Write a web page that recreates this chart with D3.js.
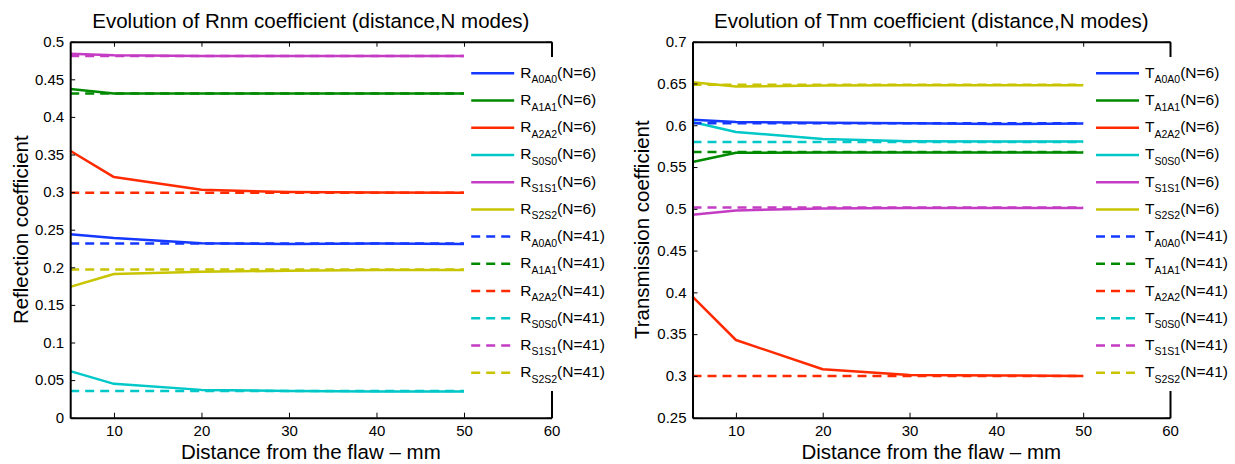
<!DOCTYPE html>
<html>
<head>
<meta charset="utf-8">
<script src="https://cdn.jsdelivr.net/npm/d3@7"></script>
<style>
  html, body { margin: 0; padding: 0; background: #fff; }
  svg { display: block; font-family: "Liberation Sans", Arial, Helvetica, sans-serif; }
</style>
</head>
<body>
<svg id="chart" width="1235" height="464"></svg>
<script>
// ---------- data ----------
const distances = [5, 10, 20, 30, 40, 50];
const modes = ["A0A0", "A1A1", "A2A2", "S0S0", "S1S1", "S2S2"];
const modeColors = ["#1438ff", "#008a00", "#ff2a00", "#00c8c8", "#c43cc4", "#c8c400"];

// Reflection coefficients, N = 6 modes
const rA0A0_N6 = [0.244, 0.239, 0.232, 0.231, 0.2315, 0.231];
const rA1A1_N6 = [0.437, 0.431, 0.431, 0.431, 0.431, 0.431];
const rA2A2_N6 = [0.355, 0.320, 0.303, 0.300, 0.2995, 0.299];
const rS0S0_N6 = [0.062, 0.045, 0.037, 0.0355, 0.035, 0.035];
const rS1S1_N6 = [0.484, 0.482, 0.481, 0.481, 0.481, 0.481];
const rS2S2_N6 = [0.174, 0.191, 0.194, 0.1955, 0.1965, 0.1965];
// Reflection coefficients, N = 41 modes
const rA0A0_N41 = [0.2315, 0.2315, 0.2315, 0.2315, 0.2315, 0.2315];
const rA1A1_N41 = [0.431, 0.431, 0.431, 0.431, 0.431, 0.431];
const rA2A2_N41 = [0.299, 0.299, 0.299, 0.299, 0.299, 0.299];
const rS0S0_N41 = [0.0355, 0.0355, 0.0355, 0.0355, 0.0355, 0.0355];
const rS1S1_N41 = [0.481, 0.481, 0.481, 0.481, 0.481, 0.481];
const rS2S2_N41 = [0.197, 0.197, 0.197, 0.197, 0.197, 0.197];

// Transmission coefficients, N = 6 modes
const tA0A0_N6 = [0.6065, 0.604, 0.603, 0.6025, 0.6015, 0.602];
const tA1A1_N6 = [0.556, 0.567, 0.5675, 0.5675, 0.5675, 0.5675];
const tA2A2_N6 = [0.395, 0.343, 0.308, 0.301, 0.3005, 0.300];
const tS0S0_N6 = [0.604, 0.592, 0.5835, 0.581, 0.5805, 0.5805];
const tS1S1_N6 = [0.493, 0.498, 0.5005, 0.501, 0.501, 0.501];
const tS2S2_N6 = [0.6515, 0.6465, 0.6475, 0.648, 0.648, 0.648];
// Transmission coefficients, N = 41 modes
const tA0A0_N41 = [0.6025, 0.6025, 0.6025, 0.6025, 0.6025, 0.6025];
const tA1A1_N41 = [0.568, 0.568, 0.568, 0.568, 0.568, 0.568];
const tA2A2_N41 = [0.300, 0.300, 0.300, 0.300, 0.300, 0.300];
const tS0S0_N41 = [0.580, 0.580, 0.580, 0.580, 0.580, 0.580];
const tS1S1_N41 = [0.5015, 0.5015, 0.5015, 0.5015, 0.5015, 0.5015];
const tS2S2_N41 = [0.6485, 0.6485, 0.6485, 0.6485, 0.6485, 0.6485];

const xTicks = [10, 20, 30, 40, 50, 60];
const rTicks = [0, 0.05, 0.1, 0.15, 0.2, 0.25, 0.3, 0.35, 0.4, 0.45, 0.5];
const tTicks = [0.25, 0.3, 0.35, 0.4, 0.45, 0.5, 0.55, 0.6, 0.65, 0.7];
const rTickLabels = ["0", "0.05", "0.1", "0.15", "0.2", "0.25", "0.3", "0.35", "0.4", "0.45", "0.5"];
const tTickLabels = ["0.25", "0.3", "0.35", "0.4", "0.45", "0.5", "0.55", "0.6", "0.65", "0.7"];

const panels = [
  {
    letter: "R",
    title: "Evolution of Rnm coefficient (distance,N modes)",
    ylabel: "Reflection coefficient",
    yDomain: [0, 0.5], yTicks: rTicks, yTickLabels: rTickLabels,
    n6: [rA0A0_N6, rA1A1_N6, rA2A2_N6, rS0S0_N6, rS1S1_N6, rS2S2_N6],
    n41: [rA0A0_N41, rA1A1_N41, rA2A2_N41, rS0S0_N41, rS1S1_N41, rS2S2_N41],
    left: 70.2, right: 551.5, ylabX: 28, legendX: 465.2
  },
  {
    letter: "T",
    title: "Evolution of Tnm coefficient (distance,N modes)",
    ylabel: "Transmission coefficient",
    yDomain: [0.25, 0.7], yTicks: tTicks, yTickLabels: tTickLabels,
    n6: [tA0A0_N6, tA1A1_N6, tA2A2_N6, tS0S0_N6, tS1S1_N6, tS2S2_N6],
    n41: [tA0A0_N41, tA1A1_N41, tA2A2_N41, tS0S0_N41, tS1S1_N41, tS2S2_N41],
    left: 692.5, right: 1170, ylabX: 649, legendX: 1090
  }
];

// ---------- drawing ----------
const svg = d3.select("#chart");
const plotTop = 41.7, plotBottom = 417.7;
const tickLen = 5;
const dash = "9,6";

panels.forEach(p => {
  const x = d3.scaleLinear().domain([5, 60]).range([p.left, p.right]);
  const y = d3.scaleLinear().domain(p.yDomain).range([plotBottom, plotTop]);
  const g = svg.append("g");

  // data lines
  const line = d3.line().x((d, i) => x(distances[i])).y(d => y(d));
  p.n6.forEach((vals, k) => {
    g.append("path").attr("d", line(vals)).attr("fill", "none")
      .attr("stroke", modeColors[k]).attr("stroke-width", 2.5)
      .attr("stroke-linejoin", "round");
  });
  p.n41.forEach((vals, k) => {
    g.append("path").attr("d", line(vals)).attr("fill", "none")
      .attr("stroke", modeColors[k]).attr("stroke-width", 2.5)
      .attr("stroke-dasharray", dash);
  });

  // axes (box with inward ticks)
  const bottomAxis = d3.axisBottom(x).tickValues(xTicks).tickSizeInner(-tickLen).tickSizeOuter(0).tickFormat(d3.format("d")).tickPadding(8);
  const gb = g.append("g").attr("transform", `translate(0,${plotBottom})`).call(bottomAxis);
  const topAxis = d3.axisTop(x).tickValues(xTicks).tickSizeInner(-tickLen).tickSizeOuter(0).tickFormat("");
  const gt = g.append("g").attr("transform", `translate(0,${plotTop})`).call(topAxis);
  const leftAxis = d3.axisLeft(y).tickValues(p.yTicks).tickSizeInner(-tickLen).tickSizeOuter(0)
    .tickFormat((d, i) => p.yTickLabels[i]).tickPadding(6);
  const gl = g.append("g").attr("transform", `translate(${p.left},0)`).call(leftAxis);
  const rightAxis = d3.axisRight(y).tickValues(p.yTicks).tickSizeInner(-tickLen).tickSizeOuter(0).tickFormat("");
  const gr = g.append("g").attr("transform", `translate(${p.right},0)`).call(rightAxis);
  [gb, gt, gl, gr].forEach(a => {
    a.select(".domain").attr("stroke", "#000").attr("stroke-width", 2);
    a.selectAll(".tick line").attr("stroke", "#000").attr("stroke-width", 1);
    a.selectAll("text").attr("font-size", 15).attr("fill", "#000")
      .attr("font-family", '"Liberation Sans", Arial, sans-serif');
  });

  // title
  g.append("text").attr("x", (p.left + p.right) / 2).attr("y", 28)
    .attr("text-anchor", "middle").attr("font-size", 20.5).text(p.title);
  // x label
  g.append("text").attr("x", (p.left + p.right) / 2).attr("y", 458.5)
    .attr("text-anchor", "middle").attr("font-size", 20.5).text("Distance from the flaw \u2013 mm");
  // y label
  g.append("text").attr("transform", `translate(${p.ylabX},${(plotTop + plotBottom) / 2}) rotate(-90)`)
    .attr("text-anchor", "middle").attr("font-size", 20.5).text(p.ylabel);

  // legend (white, no border)
  const lgX = p.legendX;
  g.append("rect").attr("x", lgX).attr("y", 57).attr("width", 170).attr("height", 334).attr("fill", "#fff");
  const entries = [];
  modes.forEach((m, k) => entries.push({ mode: m, color: modeColors[k], n: 6, dashed: false }));
  modes.forEach((m, k) => entries.push({ mode: m, color: modeColors[k], n: 41, dashed: true }));
  const ly = d3.scaleLinear().domain([0, 11]).range([73.3, 372.7]);
  entries.forEach((e, i) => {
    const yy = ly(i);
    g.append("line").attr("x1", lgX + 6).attr("x2", lgX + 49).attr("y1", yy).attr("y2", yy)
      .attr("stroke", e.color).attr("stroke-width", 2.5)
      .attr("stroke-dasharray", e.dashed ? dash : null);
    const t = g.append("text").attr("x", lgX + 55).attr("y", yy + 4.5).attr("font-size", 15.5);
    t.append("tspan").text(p.letter);
    t.append("tspan").attr("font-size", 10.5).attr("dy", 5.5).text(e.mode);
    t.append("tspan").attr("dy", -5.5).text(`(N=${e.n})`);
  });
});
</script>
</body>
</html>
